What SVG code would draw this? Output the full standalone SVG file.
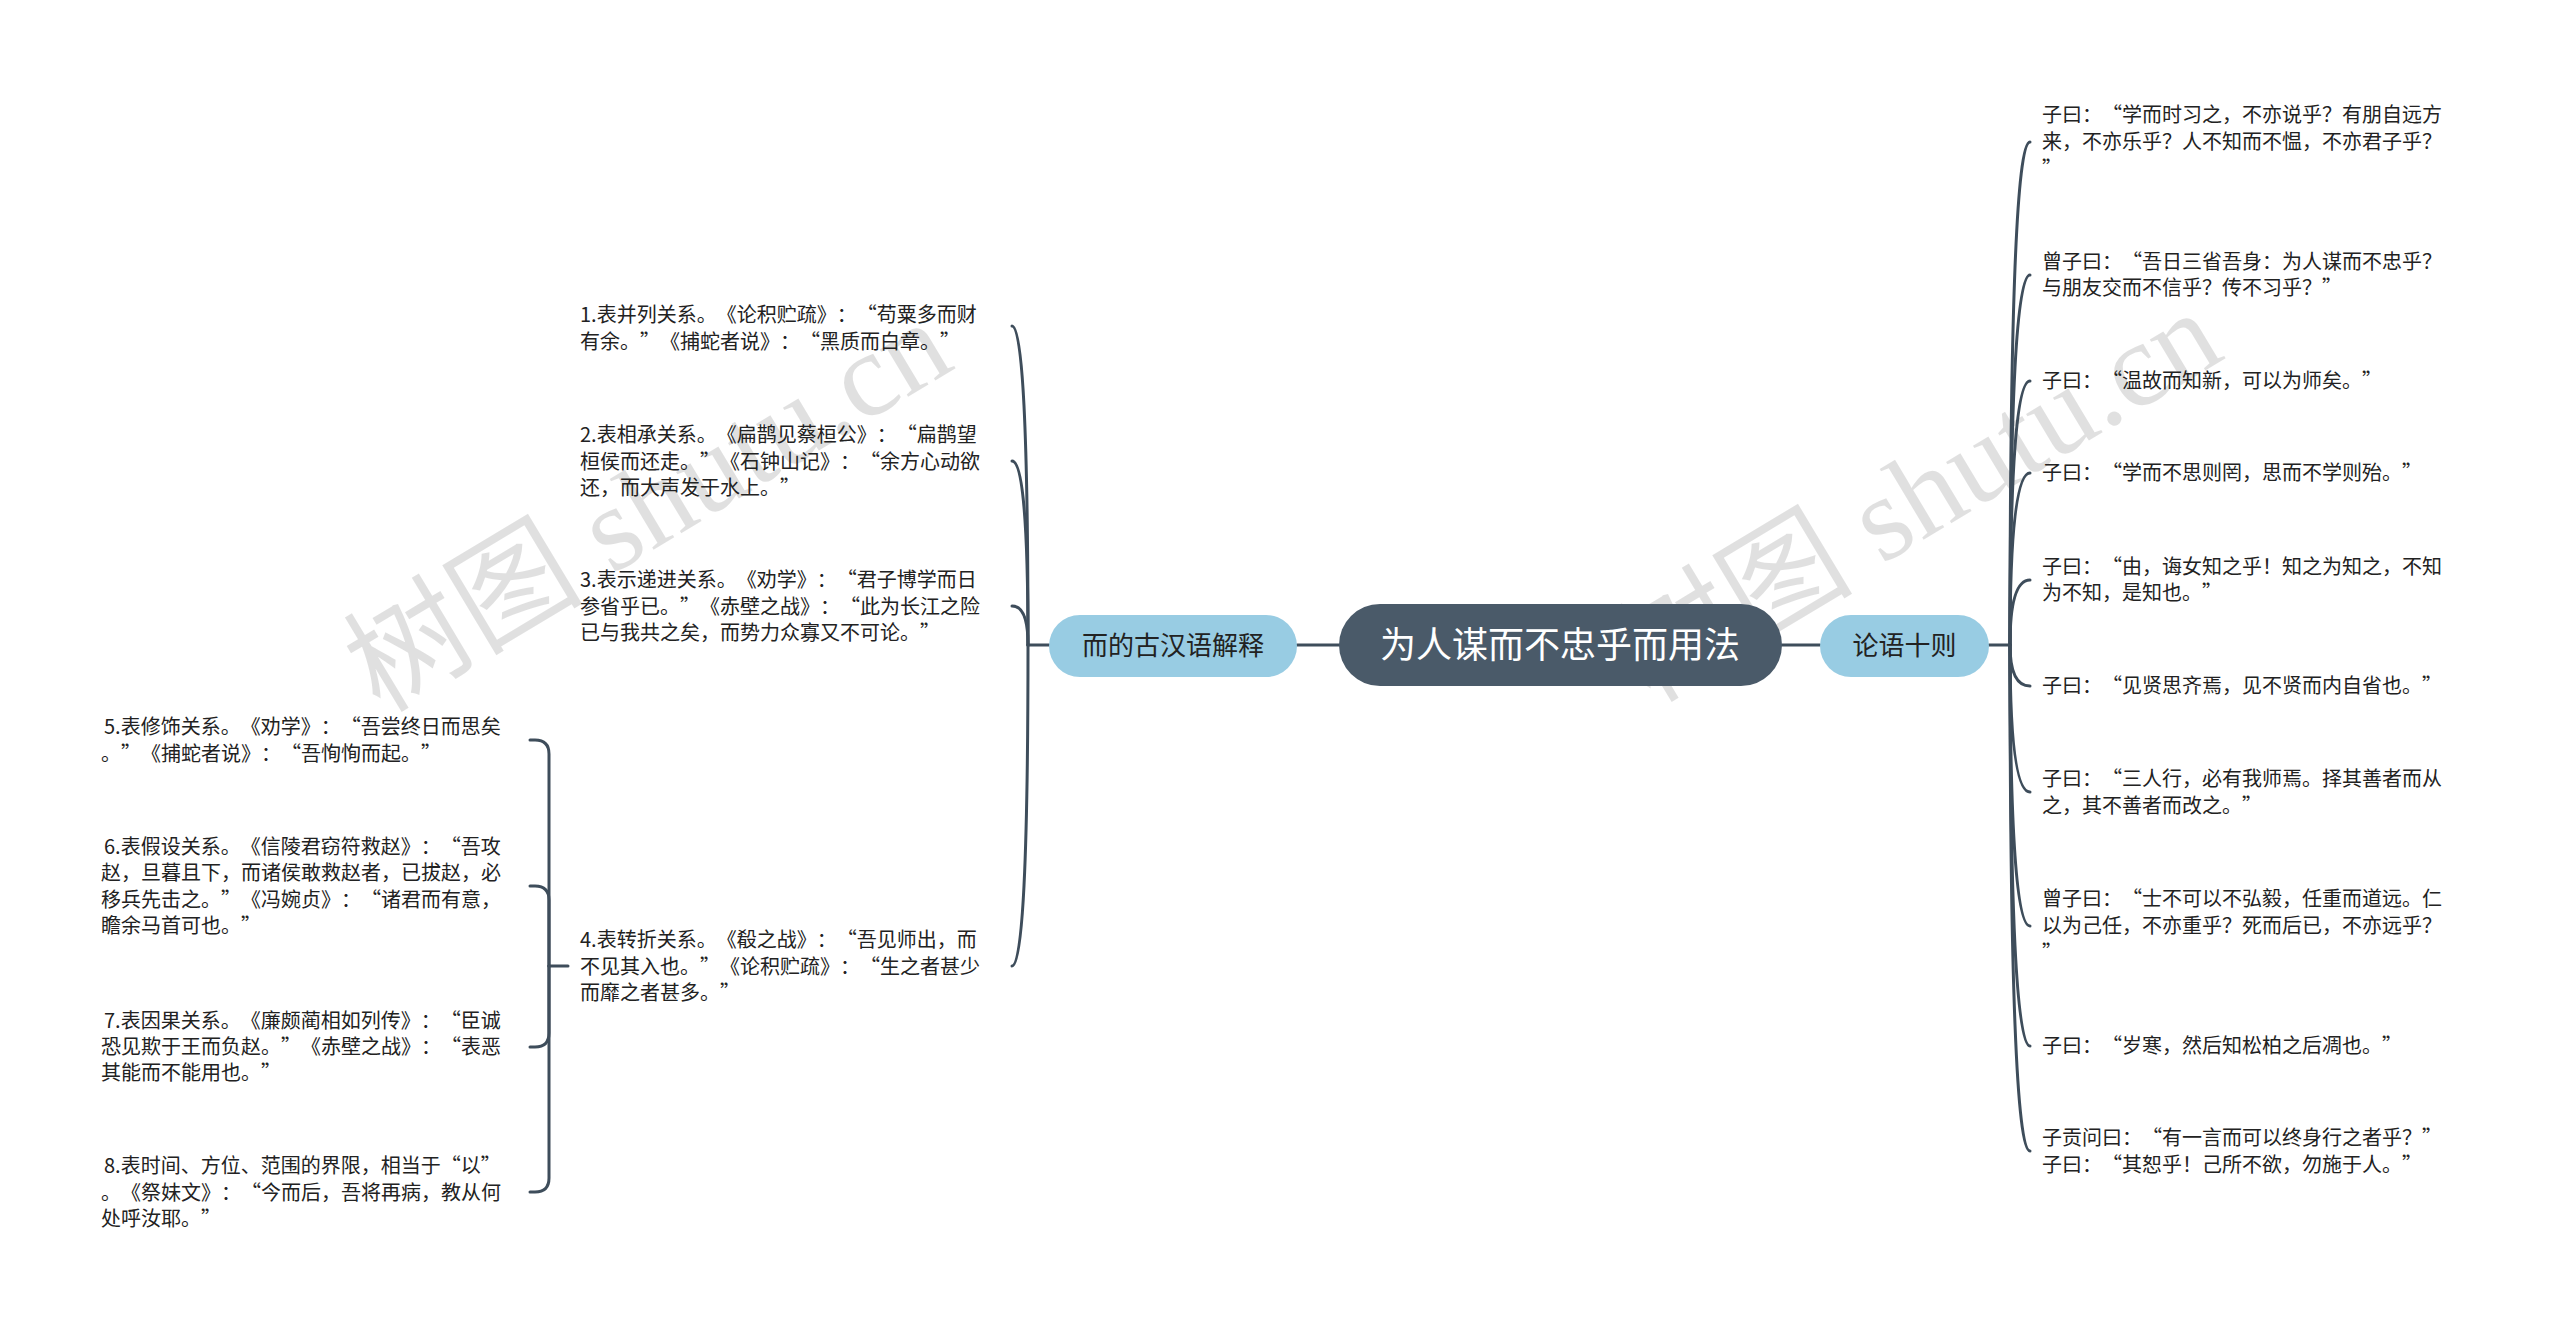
<svg xmlns="http://www.w3.org/2000/svg" width="2560" height="1333" viewBox="0 0 2560 1333" lang="zh-CN">
<style>
.leaf{font-family:"Noto Sans CJK SC","Noto Sans",sans-serif;font-size:20px;fill:#222;font-variant-east-asian:full-width;text-spacing-trim:space-all;}
.n{font-variant-east-asian:normal;}
.sub{font-family:"Noto Sans CJK SC","Noto Sans",sans-serif;font-size:26px;fill:#222;text-anchor:middle;}
.root{font-family:"Noto Sans CJK SC","Noto Sans",sans-serif;font-size:36px;fill:#fff;text-anchor:middle;}
.c{fill:none;stroke:#3e4d5b;stroke-width:3;stroke-linecap:round;}
.wm{font-family:"Liberation Serif","Noto Sans CJK SC",serif;font-size:120px;fill:#000;fill-opacity:0.12;}
</style>
<rect width="2560" height="1333" fill="#fff"/>
<g id="watermark">
<text class="wm" transform="translate(380,714) rotate(-31)">树图 shutu.cn</text>
<text class="wm" transform="translate(1650,704) rotate(-31)">树图 shutu.cn</text>
</g>
<g id="connectors">
<path class="c" d="M1297 645 L1339 645"/>
<path class="c" d="M1782 645 L1820 645"/>
<path class="c" d="M1049 645 L1028 645"/>
<path class="c" d="M1028 645 Q1028 326 1012 326"/>
<path class="c" d="M1028 645 Q1028 461 1012 461"/>
<path class="c" d="M1028 645 Q1028 606 1012 606"/>
<path class="c" d="M1028 645 Q1028 966 1012 966"/>
<path class="c" d="M568 966 L549 966"/>
<path class="c" d="M549 966 L549 754 Q549 740 535 740 L530 740"/>
<path class="c" d="M549 966 L549 900 Q549 886 535 886 L530 886"/>
<path class="c" d="M549 966 L549 1033 Q549 1047 535 1047 L530 1047"/>
<path class="c" d="M549 966 L549 1178 Q549 1192 535 1192 L530 1192"/>
<path class="c" d="M1989 645 L2010 645"/>
<path class="c" d="M2010 645 Q2010 142 2030 142"/>
<path class="c" d="M2010 645 Q2010 275 2030 275"/>
<path class="c" d="M2010 645 Q2010 381 2030 381"/>
<path class="c" d="M2010 645 Q2010 473 2030 473"/>
<path class="c" d="M2010 645 Q2010 580 2030 580"/>
<path class="c" d="M2010 645 Q2010 686 2030 686"/>
<path class="c" d="M2010 645 Q2010 792 2030 792"/>
<path class="c" d="M2010 645 Q2010 926 2030 926"/>
<path class="c" d="M2010 645 Q2010 1046 2030 1046"/>
<path class="c" d="M2010 645 Q2010 1151 2030 1151"/>
</g>
<g id="root">
<rect x="1339" y="604" width="443" height="82" rx="41" fill="#4a5a69"/>
<text class="root" x="1560" y="658">为人谋而不忠乎而用法</text>
</g>
<g id="n-left">
<rect x="1049" y="615" width="248" height="62" rx="31" fill="#98cce3"/>
<text class="sub" x="1173" y="655">而的古汉语解释</text>
</g>
<g id="n-right">
<rect x="1820" y="615" width="169" height="62" rx="31" fill="#98cce3"/>
<text class="sub" x="1904.5" y="655">论语十则</text>
</g>
<g id="l1"><text class="leaf"><tspan x="580" y="322"><tspan class="n">1.</tspan>表并列关系。《论积贮疏》：“苟粟多而财</tspan><tspan x="580" y="349">有余。”《捕蛇者说》：“黑质而白章。”</tspan></text></g>
<g id="l2"><text class="leaf"><tspan x="580" y="442"><tspan class="n">2.</tspan>表相承关系。《扁鹊见蔡桓公》：“扁鹊望</tspan><tspan x="580" y="469">桓侯而还走。”《石钟山记》：“余方心动欲</tspan><tspan x="580" y="495">还，而大声发于水上。”</tspan></text></g>
<g id="l3"><text class="leaf"><tspan x="580" y="587"><tspan class="n">3.</tspan>表示递进关系。《劝学》：“君子博学而日</tspan><tspan x="580" y="614">参省乎已。”《赤壁之战》：“此为长江之险</tspan><tspan x="580" y="640">已与我共之矣，而势力众寡又不可论。”</tspan></text></g>
<g id="l4"><text class="leaf"><tspan x="580" y="947"><tspan class="n">4.</tspan>表转折关系。《殽之战》：“吾见师出，而</tspan><tspan x="580" y="974">不见其入也。”《论积贮疏》：“生之者甚少</tspan><tspan x="580" y="1000">而靡之者甚多。”</tspan></text></g>
<g id="l5"><text class="leaf"><tspan x="104" y="734"><tspan class="n">5.</tspan>表修饰关系。《劝学》：“吾尝终日而思矣</tspan><tspan x="101" y="761">。”《捕蛇者说》：“吾恂恂而起。”</tspan></text></g>
<g id="l6"><text class="leaf"><tspan x="104" y="854"><tspan class="n">6.</tspan>表假设关系。《信陵君窃符救赵》：“吾攻</tspan><tspan x="101" y="880">赵，旦暮且下，而诸侯敢救赵者，已拔赵，必</tspan><tspan x="101" y="907">移兵先击之。”《冯婉贞》：“诸君而有意，</tspan><tspan x="101" y="933">瞻余马首可也。”</tspan></text></g>
<g id="l7"><text class="leaf"><tspan x="104" y="1028"><tspan class="n">7.</tspan>表因果关系。《廉颇蔺相如列传》：“臣诚</tspan><tspan x="101" y="1054">恐见欺于王而负赵。”《赤壁之战》：“表恶</tspan><tspan x="101" y="1080">其能而不能用也。”</tspan></text></g>
<g id="l8"><text class="leaf"><tspan x="104" y="1173"><tspan class="n">8.</tspan>表时间、方位、范围的界限，相当于“以”</tspan><tspan x="101" y="1200">。《祭妹文》：“今而后，吾将再病，教从何</tspan><tspan x="101" y="1226">处呼汝耶。”</tspan></text></g>
<g id="r1"><text class="leaf"><tspan x="2042" y="122">子曰：“学而时习之，不亦说乎？有朋自远方</tspan><tspan x="2042" y="149">来，不亦乐乎？人不知而不愠，不亦君子乎？</tspan><tspan x="2042" y="176">”</tspan></text></g>
<g id="r2"><text class="leaf"><tspan x="2042" y="269">曾子曰：“吾日三省吾身：为人谋而不忠乎？</tspan><tspan x="2042" y="295">与朋友交而不信乎？传不习乎？”</tspan></text></g>
<g id="r3"><text class="leaf"><tspan x="2042" y="388">子曰：“温故而知新，可以为师矣。”</tspan></text></g>
<g id="r4"><text class="leaf"><tspan x="2042" y="480">子曰：“学而不思则罔，思而不学则殆。”</tspan></text></g>
<g id="r5"><text class="leaf"><tspan x="2042" y="574">子曰：“由，诲女知之乎！知之为知之，不知</tspan><tspan x="2042" y="600">为不知，是知也。”</tspan></text></g>
<g id="r6"><text class="leaf"><tspan x="2042" y="693">子曰：“见贤思齐焉，见不贤而内自省也。”</tspan></text></g>
<g id="r7"><text class="leaf"><tspan x="2042" y="786">子曰：“三人行，必有我师焉。择其善者而从</tspan><tspan x="2042" y="813">之，其不善者而改之。”</tspan></text></g>
<g id="r8"><text class="leaf"><tspan x="2042" y="906">曾子曰：“士不可以不弘毅，任重而道远。仁</tspan><tspan x="2042" y="933">以为己任，不亦重乎？死而后已，不亦远乎？</tspan><tspan x="2042" y="960">”</tspan></text></g>
<g id="r9"><text class="leaf"><tspan x="2042" y="1053">子曰：“岁寒，然后知松柏之后凋也。”</tspan></text></g>
<g id="r10"><text class="leaf"><tspan x="2042" y="1145">子贡问曰：“有一言而可以终身行之者乎？”</tspan><tspan x="2042" y="1172">子曰：“其恕乎！己所不欲，勿施于人。”</tspan></text></g>
</svg>
